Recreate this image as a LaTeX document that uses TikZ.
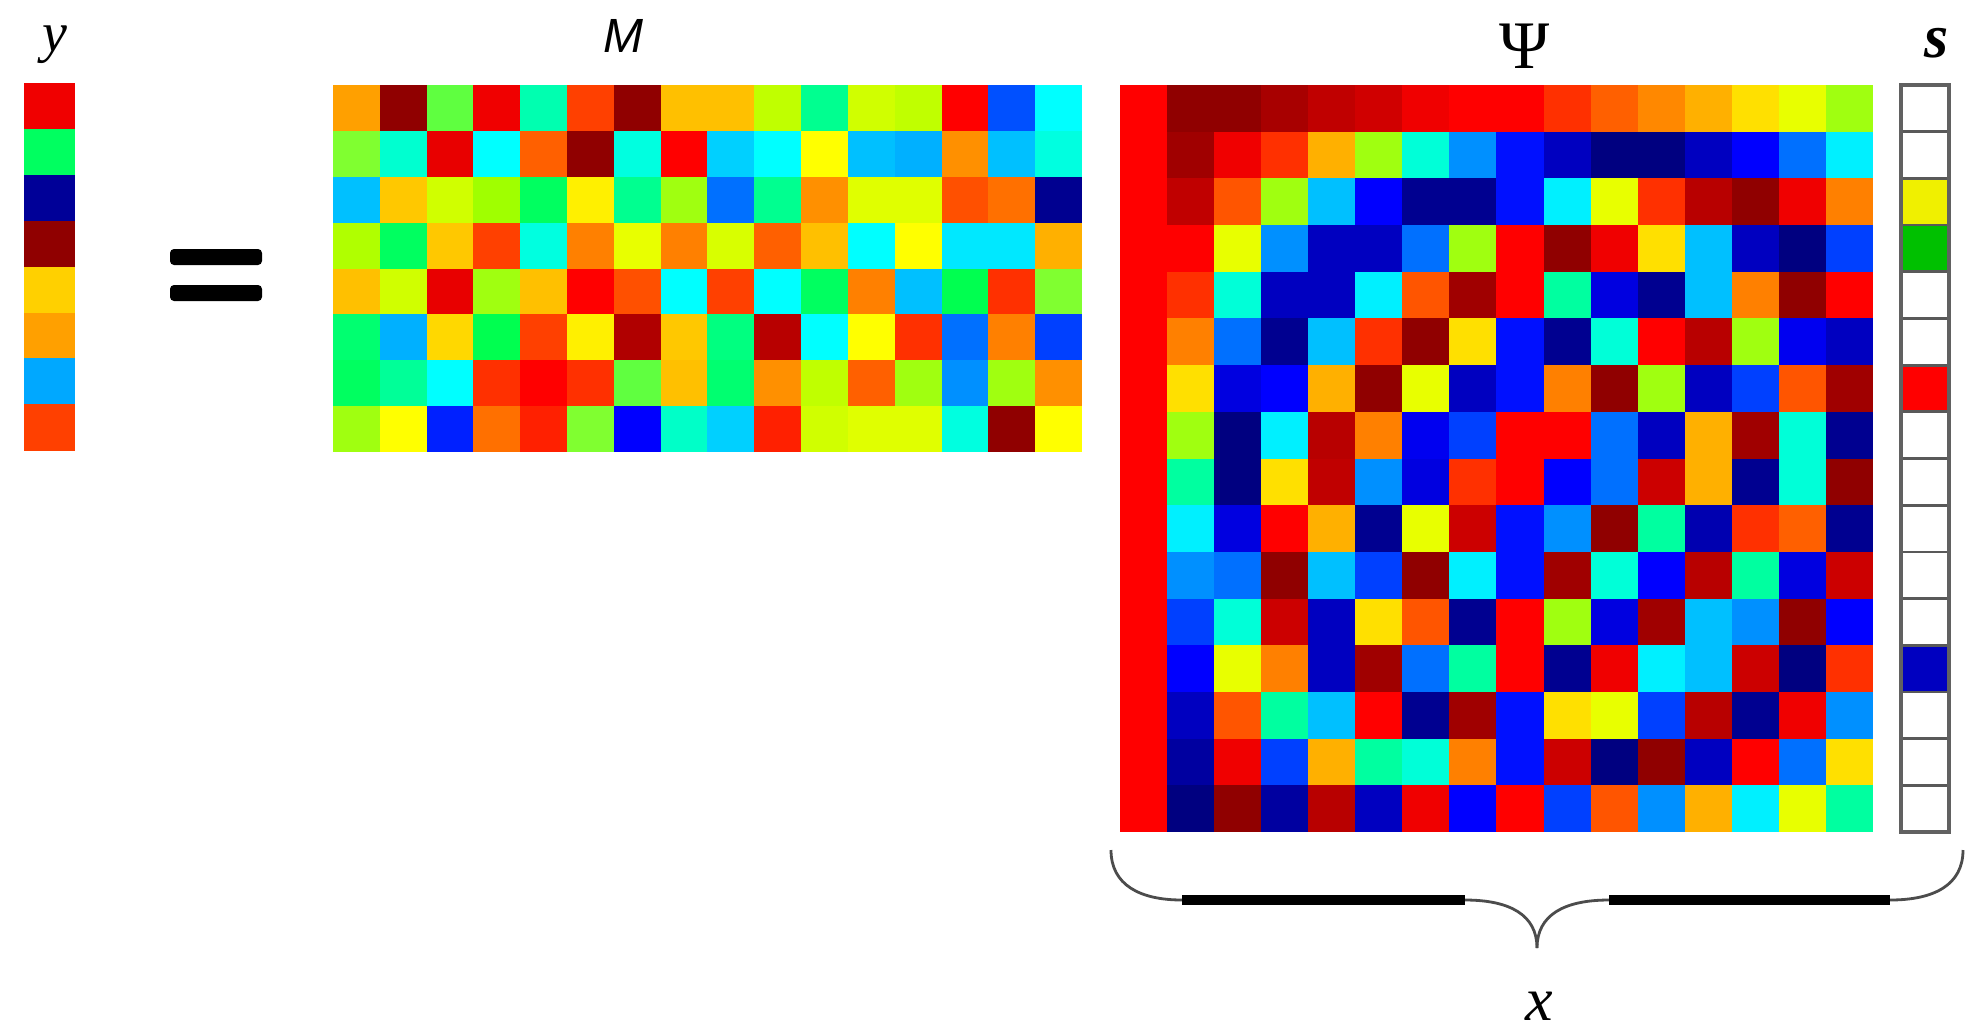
\documentclass[tikz,border=0pt]{standalone}
\usepackage{fontspec}
\setmainfont{Liberation Serif}
\newfontfamily\msans{Liberation Sans}
\begin{document}
\begin{tikzpicture}[x=0.5pt,y=-0.5pt,
  lbl/.style={inner sep=0pt,anchor=base},
  eqbar/.style={fill=black,rounded corners=2pt},
  bthin/.style={draw=black!70,line width=1.4pt},
  bthick/.style={draw=black,line width=4.6pt},
  sdiv/.style={draw=black!65,line width=1.4pt},
  sframe/.style={draw=black!62,line width=2.2pt}]
\useasboundingbox (0,0) rectangle (1986,1035);
\fill[white] (0,0) rectangle (1986,1035);

% ---- y vector ----
\foreach \c [count=\i from 0] in {F00000,00FF60,000098,900000,FFD000,FFA000,00A8FF,FF4000}{%
  \edef\tmp{\noexpand\definecolor{cc}{HTML}{\c}}\tmp
  \fill[cc] (24,{83+\i*45.9}) rectangle ++(51,46.4);}

% ---- equals sign ----
\fill[eqbar] (170,249) rectangle (262,265);
\fill[eqbar] (170,285) rectangle (262,301);

% ---- M matrix (8 x 16) ----
\foreach \rw [count=\j from 0] in {%
{FFA000,900000,5FFF40,F00000,00FFB0,FF4000,900000,FFC000,FFC000,C0FF00,00FF90,D0FF00,C0FF00,FF0000,0050FF,00FFFF},%
{80FF30,00FFD0,E80000,00FFFF,FF6000,900000,00FFE0,FF0000,00D0FF,00FFFF,FFFF00,00C0FF,00B0FF,FF9000,00C0FF,00FFE0},%
{00C0FF,FFC800,D0FF00,A0FF00,00FF60,FFF000,00FF90,A0FF10,0070FF,00FF90,FF9000,E0FF00,E0FF00,FF5000,FF7000,000090},%
{B0FF00,00FF60,FFC800,FF4000,00FFE0,FF8000,E8FF00,FF8000,D8FF00,FF6000,FFC000,00FFFF,FFFF00,00E8FF,00E8FF,FFB000},%
{FFC000,D0FF00,E80000,A0FF10,FFC000,FF0000,FF5000,00FFFF,FF4000,00FFFF,00FF60,FF8000,00C0FF,00FF50,FF3000,80FF30},%
{00FF70,00B0FF,FFD800,00FF50,FF4000,FFF000,B00000,FFC800,00FF80,B80000,00FFFF,FFFF00,FF3000,0070FF,FF8000,0040FF},%
{00FF60,00FF98,00FFFF,FF3000,FF0000,FF3000,60FF40,FFC000,00FF70,FF9000,C0FF00,FF6000,A0FF10,0090FF,A0FF10,FF9000},%
{A0FF10,FFFF00,0020FF,FF7000,FF2000,80FF30,0000FF,00FFC8,00D0FF,FF2000,D0FF00,E0FF00,E0FF00,00FFE0,900000,FFFF00}%
}{%
  \foreach \c [count=\i from 0] in \rw {%
    \edef\tmp{\noexpand\definecolor{cc}{HTML}{\c}}\tmp
    \fill[cc] ({333+\i*46.81},{85+\j*45.875}) rectangle ++(47.3,46.3);}}

% ---- Psi matrix (16 x 16) ----
\foreach \rw [count=\j from 0] in {%
{FF0000,900000,900000,A80000,C00000,D00000,F00000,FF0000,FF0000,FF3000,FF6000,FF8800,FFB000,FFE000,E8FF00,A0FF10},%
{FF0000,A00000,F00000,FF3000,FFB000,A0FF10,00FFD8,0090FF,0010FF,0000C0,000080,000080,0000C0,0000FF,0070FF,00F0FF},%
{FF0000,C00000,FF5500,A0FF10,00C0FF,0000FF,000090,000090,0010FF,00F0FF,E8FF00,FF3000,B80000,900000,F00000,FF8000},%
{FF0000,FF0000,E8FF00,0090FF,0000C0,0000C0,0070FF,A0FF10,FF0000,900000,F00000,FFE000,00C0FF,0000C0,000080,0040FF},%
{FF0000,FF3000,00FFD8,0000C0,0000C0,00F0FF,FF5500,A00000,FF0000,00FFA0,0000E0,000090,00C0FF,FF8000,900000,FF0000},%
{FF0000,FF8000,0070FF,000090,00C0FF,FF3000,900000,FFE000,0010FF,000090,00FFD8,FF0000,B80000,A0FF10,0000F0,0000C0},%
{FF0000,FFE000,0000E0,0000FF,FFB000,900000,E8FF00,0000C0,0010FF,FF8000,900000,A0FF10,0000C0,0040FF,FF5500,A00000},%
{FF0000,A0FF10,000080,00F0FF,B80000,FF8000,0000F0,0040FF,FF0000,FF0000,0070FF,0000C0,FFB000,A00000,00FFD8,000090},%
{FF0000,00FFA0,000080,FFE000,C00000,0090FF,0000E0,FF3000,FF0000,0000FF,0070FF,CC0000,FFB000,000090,00FFD8,900000},%
{FF0000,00F0FF,0000E0,FF0000,FFB000,000090,E8FF00,CC0000,0010FF,0090FF,900000,00FFA0,0000B0,FF3000,FF6000,000090},%
{FF0000,0090FF,0070FF,900000,00C0FF,0040FF,900000,00F0FF,0010FF,A00000,00FFD8,0000FF,B80000,00FFA0,0000E0,CC0000},%
{FF0000,0040FF,00FFD8,CC0000,0000C0,FFE000,FF5500,000090,FF0000,A0FF10,0000E0,A00000,00C0FF,0090FF,900000,0000FF},%
{FF0000,0000FF,E8FF00,FF8000,0000C0,A00000,0070FF,00FFA0,FF0000,000090,F00000,00F0FF,00C0FF,CC0000,000080,FF3000},%
{FF0000,0000C0,FF5500,00FFA0,00C0FF,FF0000,000090,A00000,0010FF,FFE000,E8FF00,0040FF,B80000,000090,F00000,0090FF},%
{FF0000,0000A0,F00000,0040FF,FFB000,00FFA0,00FFD8,FF8000,0010FF,CC0000,000080,900000,0000C0,FF0000,0070FF,FFE000},%
{FF0000,000080,900000,0000A0,B80000,0000C0,F00000,0000FF,FF0000,0040FF,FF5500,0090FF,FFB000,00F0FF,E8FF00,00FFA0}%
}{%
  \foreach \c [count=\i from 0] in \rw {%
    \edef\tmp{\noexpand\definecolor{cc}{HTML}{\c}}\tmp
    \fill[cc] ({1120+\i*47.06},{85+\j*46.69}) rectangle ++(47.5,47.1);}}

% ---- s vector ----
\foreach \c [count=\i from 0] in {FFFFFF,FFFFFF,F0F000,00C000,FFFFFF,FFFFFF,FF0000,FFFFFF,FFFFFF,FFFFFF,FFFFFF,FFFFFF,0000C0,FFFFFF,FFFFFF,FFFFFF}{%
  \edef\tmp{\noexpand\definecolor{cc}{HTML}{\c}}\tmp
  \fill[cc] (1901,{85+\i*46.69}) rectangle ++(48,46.69);}
\foreach \i in {1,...,15}{\draw[sdiv] (1901,{85+\i*46.69}) -- (1949,{85+\i*46.69});}
\draw[sframe] (1901,85) rectangle (1949,832);

% ---- brace ----
\coordinate (bL) at (1111,850);
\coordinate (bL1) at (1182,900);
\coordinate (bL2) at (1465,900);
\coordinate (bT) at (1537,948);
\coordinate (bR2) at (1609,900);
\coordinate (bR1) at (1890,900);
\coordinate (bR) at (1963,850);
\draw[bthin] (bL) .. controls (1111,885) and (1140,900) .. (bL1);
\draw[bthin] (bL2) .. controls (1510,900) and (1537,915) .. (bT);
\draw[bthin] (bT) .. controls (1537,915) and (1564,900) .. (bR2);
\draw[bthin] (bR1) .. controls (1934,900) and (1963,885) .. (bR);
\draw[bthick] (bL1) -- (bL2);
\draw[bthick] (bR2) -- (bR1);

% ---- labels ----
\node[lbl,font=\fontsize{28pt}{30pt}\selectfont\itshape] (ylab) at (55,51) {y};
\node[lbl,font=\fontsize{24pt}{26pt}\selectfont\msans\itshape] (mlab) at (623,52) {M};
\node[lbl,font=\fontsize{34pt}{36pt}\selectfont] (psilab) at (1525,68) {Ψ};
\node[lbl,font=\fontsize{31pt}{33pt}\selectfont\bfseries\itshape] (slab) at (1937,57) {s};
\node[lbl,font=\fontsize{31pt}{33pt}\selectfont\itshape] (xlab) at (1539,1020) {x};
\end{tikzpicture}
\end{document}
